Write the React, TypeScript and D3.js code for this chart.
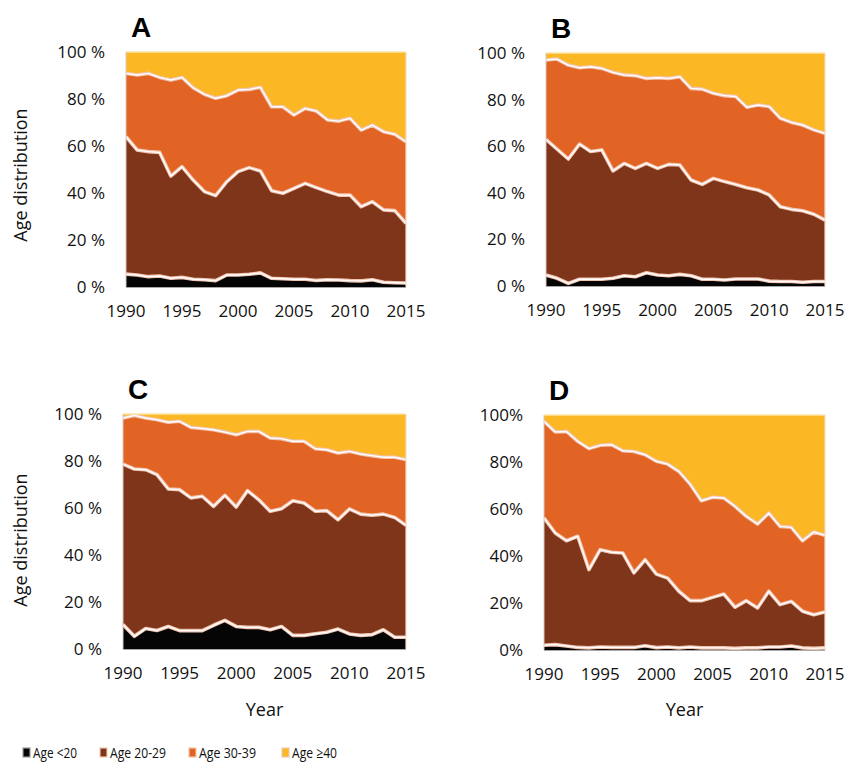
import React from 'react';
import * as d3 from 'd3';

const years = [1990, 1991, 1992, 1993, 1994, 1995, 1996, 1997, 1998, 1999, 2000, 2001, 2002, 2003, 2004, 2005, 2006, 2007, 2008, 2009, 2010, 2011, 2012, 2013, 2014, 2015];
const seriesNames = ['Age <20', 'Age 20-29', 'Age 30-39', 'Age \u226540'];
const yTicks = [0, 20, 40, 60, 80, 100];
const xTicks = [1990, 1995, 2000, 2005, 2010, 2015];

// Panel A
const aUnder20 = [5.5, 5.1, 4.4, 4.7, 3.7, 4.1, 3.3, 3.1, 2.7, 5.1, 5.1, 5.4, 6.0, 3.7, 3.5, 3.3, 3.3, 2.8, 3.1, 3.0, 2.7, 2.6, 3.1, 2.0, 1.8, 1.7];
const a20to29 = [58.5, 53.2, 53.2, 52.6, 43.5, 47.1, 42.2, 37.5, 36.2, 39.7, 44.0, 45.4, 43.4, 37.3, 36.4, 38.7, 40.8, 39.5, 37.5, 36.1, 36.4, 31.6, 33.2, 30.8, 30.7, 25.4];
const a30to39 = [26.9, 31.9, 33.3, 31.9, 40.9, 38.0, 39.3, 41.4, 41.4, 36.6, 34.7, 33.3, 35.6, 35.7, 36.8, 31.2, 31.9, 32.6, 30.5, 31.5, 32.7, 32.6, 32.6, 33.3, 32.5, 34.7];
const a40plus = [9.1, 9.8, 9.1, 10.8, 11.9, 10.8, 15.2, 18.0, 19.7, 18.6, 16.2, 15.9, 15.0, 23.3, 23.3, 26.8, 24.0, 25.1, 28.9, 29.4, 28.2, 33.2, 31.1, 33.9, 35.0, 38.2];

// Panel B
const bUnder20 = [4.7, 3.3, 1.1, 2.9, 2.9, 2.9, 3.3, 4.4, 4.0, 5.7, 4.7, 4.4, 5.0, 4.4, 2.9, 2.9, 2.6, 3.0, 3.0, 3.0, 2.1, 1.9, 1.9, 1.6, 1.9, 1.9];
const b20to29 = [58.2, 55.4, 53.4, 58.0, 54.8, 55.5, 46.1, 48.2, 46.5, 46.9, 45.8, 47.8, 46.9, 41.1, 40.7, 43.3, 42.2, 40.6, 39.2, 38.2, 37.0, 32.1, 31.0, 30.7, 28.9, 26.4];
const b30to39 = [34.1, 38.7, 40.3, 32.8, 36.4, 35.0, 42.3, 38.0, 39.8, 36.5, 38.9, 36.9, 37.9, 39.3, 40.9, 36.5, 36.9, 37.7, 34.5, 36.5, 37.9, 38.0, 37.3, 36.8, 36.2, 37.2];
const b40plus = [3.0, 2.6, 5.2, 6.3, 5.9, 6.6, 8.3, 9.4, 9.7, 10.9, 10.6, 10.9, 10.2, 15.2, 15.5, 17.3, 18.3, 18.7, 23.3, 22.3, 23.0, 28.0, 29.8, 30.9, 33.0, 34.5];

// Panel C
const cUnder20 = [10.4, 5.4, 8.7, 7.9, 9.6, 7.8, 7.8, 7.8, 10.1, 12.2, 9.6, 9.2, 9.2, 8.2, 9.6, 5.8, 5.8, 6.5, 7.1, 8.5, 6.4, 5.8, 6.1, 8.2, 5.0, 5.0];
const c20to29 = [68.3, 71.2, 67.6, 66.3, 58.5, 60.0, 56.5, 57.2, 50.6, 53.2, 50.8, 58.2, 54.3, 50.4, 50.1, 57.3, 56.3, 52.1, 51.8, 46.5, 53.2, 51.6, 50.8, 49.2, 51.0, 47.6];
const c30to39 = [19.6, 22.8, 22.0, 23.4, 28.4, 29.1, 30.0, 28.8, 32.6, 26.9, 30.8, 25.2, 29.1, 31.2, 29.8, 25.3, 26.3, 26.6, 25.9, 28.4, 24.5, 25.6, 25.4, 24.2, 25.6, 28.0];
const c40plus = [1.7, 0.6, 1.7, 2.4, 3.5, 3.1, 5.7, 6.2, 6.7, 7.7, 8.8, 7.4, 7.4, 10.2, 10.5, 11.6, 11.6, 14.8, 15.2, 16.6, 15.9, 17.0, 17.7, 18.4, 18.4, 19.4];

// Panel D
const dUnder20 = [2.0, 2.3, 1.7, 1.1, 0.9, 1.3, 1.1, 1.1, 1.1, 1.8, 1.0, 1.3, 0.9, 1.3, 0.9, 0.9, 0.9, 0.7, 0.9, 0.9, 1.3, 1.3, 1.7, 0.9, 0.7, 0.9];
const d20to29 = [54.2, 47.5, 44.8, 47.3, 33.3, 41.4, 40.5, 40.2, 31.7, 36.6, 31.3, 29.3, 24.1, 19.7, 20.1, 21.5, 22.9, 17.5, 20.1, 17.0, 23.7, 18.0, 19.0, 15.6, 14.3, 15.3];
const d30to39 = [41.1, 43.0, 46.5, 40.4, 51.5, 44.4, 45.8, 43.5, 51.7, 44.7, 48.0, 48.5, 51.0, 49.6, 42.5, 42.6, 40.9, 42.9, 35.9, 35.7, 33.3, 33.3, 31.5, 30.0, 35.2, 32.6];
const d40plus = [2.7, 7.2, 7.0, 11.2, 14.3, 12.9, 12.6, 15.2, 15.5, 16.9, 19.7, 20.9, 24.0, 29.4, 36.5, 35.0, 35.3, 38.9, 43.1, 46.4, 41.7, 47.4, 47.8, 53.5, 49.8, 51.2];

const fills = ['#050505', '#7e3519', '#e26424', '#fbb824'];
const tickFont = "'Open Sans', 'DejaVu Sans', sans-serif";
const legendFont = "'Open Sans', sans-serif";

type PanelCfg = {
  letter: string;
  series: number[][];
  left: number; right: number; top: number; bottom: number;
  yTitle: boolean; xTitle: boolean; pctSpace: boolean;
  titleY: number; xTitleY: number;
};

const panels: PanelCfg[] = [
  { letter: 'A', series: [aUnder20, a20to29, a30to39, a40plus], left: 126, right: 406, top: 52, bottom: 287, yTitle: true, xTitle: false, pctSpace: true, titleY: 175, xTitleY: 0 },
  { letter: 'B', series: [bUnder20, b20to29, b30to39, b40plus], left: 546, right: 825, top: 53, bottom: 286, yTitle: false, xTitle: false, pctSpace: true, titleY: 175, xTitleY: 0 },
  { letter: 'C', series: [cUnder20, c20to29, c30to39, c40plus], left: 123, right: 406, top: 414, bottom: 649, yTitle: true, xTitle: true, pctSpace: true, titleY: 540, xTitleY: 716 },
  { letter: 'D', series: [dUnder20, d20to29, d30to39, d40plus], left: 544, right: 825, top: 415, bottom: 650, yTitle: false, xTitle: true, pctSpace: false, titleY: 540, xTitleY: 716 },
];

function Panel({ cfg, idx }: { cfg: PanelCfg; idx: number }) {
  const x = d3.scaleLinear().domain([1990, 2015]).range([cfg.left, cfg.right]);
  const y = d3.scaleLinear().domain([0, 100]).range([cfg.bottom, cfg.top]);
  const rows = years.map((yr, i) => {
    const r: any = { year: yr };
    seriesNames.forEach((k, j) => { r[k] = cfg.series[j][i]; });
    return r;
  });
  const stacked = d3.stack<any>().keys(seriesNames)(rows);
  const area = d3.area<any>()
    .x((d) => x(d.data.year))
    .y0((d) => y(d[0]))
    .y1((d) => y(Math.min(100, d[1])));
  const line = d3.line<any>()
    .x((d) => x(d.data.year))
    .y((d) => y(Math.min(100, d[1])));
  const clipId = `clip-${idx}`;
  const fmt = (v: number) => (cfg.pctSpace ? `${v} %` : `${v}%`);
  const cx = (cfg.left + cfg.right) / 2;
  return (
    <g>
      <defs>
        <clipPath id={clipId}>
          <rect x={cfg.left} y={cfg.top - 1} width={cfg.right - cfg.left} height={cfg.bottom - cfg.top + 1} />
        </clipPath>
      </defs>
      <g clipPath={`url(#${clipId})`}>
        {stacked.map((s, i) => (
          <path key={`a${i}`} d={area(s) || ''} fill={fills[i]} />
        ))}
        {stacked.slice(0, 3).map((s, i) => (
          <g key={`l${i}`}>
            <path d={line(s) || ''} fill="none" stroke="#f2c4b0" strokeWidth={3.6} strokeLinejoin="round" />
            <path d={line(s) || ''} fill="none" stroke="#ffffff" strokeWidth={1.4} strokeLinejoin="round" />
          </g>
        ))}
      </g>
      {/* plot frame */}
      <line x1={cfg.left} x2={cfg.right} y1={cfg.top} y2={cfg.top} stroke="#fde6a6" strokeWidth={1.5} />
      <line x1={cfg.right} x2={cfg.right} y1={cfg.top} y2={cfg.bottom} stroke="#f8d9c8" strokeWidth={1.2} />
      <line x1={cfg.left} x2={cfg.left} y1={cfg.top} y2={cfg.bottom} stroke="#d8c8c0" strokeWidth={1} />
      <line x1={cfg.left} x2={cfg.right} y1={cfg.bottom + 0.5} y2={cfg.bottom + 0.5} stroke="#a8a8a8" strokeWidth={1.2} />
      {/* y ticks */}
      {yTicks.map((t) => (
        <text key={`y${t}`} x={cfg.left - 21} y={y(t) + 6} textAnchor="end" fontFamily={tickFont} fontSize={17} fill="#111">
          {fmt(t)}
        </text>
      ))}
      {/* x ticks */}
      {xTicks.map((t) => (
        <text key={`x${t}`} x={x(t)} y={cfg.bottom + 30} textAnchor="middle" fontFamily={tickFont} fontSize={17} fill="#111">
          {t}
        </text>
      ))}
      <text x={cfg.left + 5} y={cfg.top - 15} fontFamily="'Liberation Sans', Arial, sans-serif" fontWeight="bold" fontSize={28} fill="#000">
        {cfg.letter}
      </text>
      {cfg.yTitle && (
        <text transform={`translate(27,${cfg.titleY}) rotate(-90)`} textAnchor="middle" fontFamily={tickFont} fontSize={18} fill="#111">
          Age distribution
        </text>
      )}
      {cfg.xTitle && (
        <text x={cx} y={cfg.xTitleY} textAnchor="middle" fontFamily={tickFont} fontSize={18} fill="#111">
          Year
        </text>
      )}
    </g>
  );
}

const legendX = [23, 100, 189, 282];
const legendTextW = [44, 56, 57, 45];

export default function App() {
  return (
    <svg width={847} height={765} style={{ position: 'absolute', left: 0, top: 0 }} xmlns="http://www.w3.org/2000/svg">
      <rect width={847} height={765} fill="#ffffff" />
      {panels.map((p, i) => (
        <Panel key={p.letter} cfg={p} idx={i} />
      ))}
      {seriesNames.map((n, i) => (
        <g key={n}>
          <rect x={legendX[i]} y={748} width={7} height={9} fill={fills[i]} stroke={i === 0 ? '#9a9a9a' : '#f0c8b0'} strokeWidth={1.2} />
          <text x={legendX[i] + 10} y={758} fontFamily={legendFont} fontSize={15} fill="#111"
            textLength={legendTextW[i]} lengthAdjust="spacingAndGlyphs">
            {n}
          </text>
        </g>
      ))}
    </svg>
  );
}
